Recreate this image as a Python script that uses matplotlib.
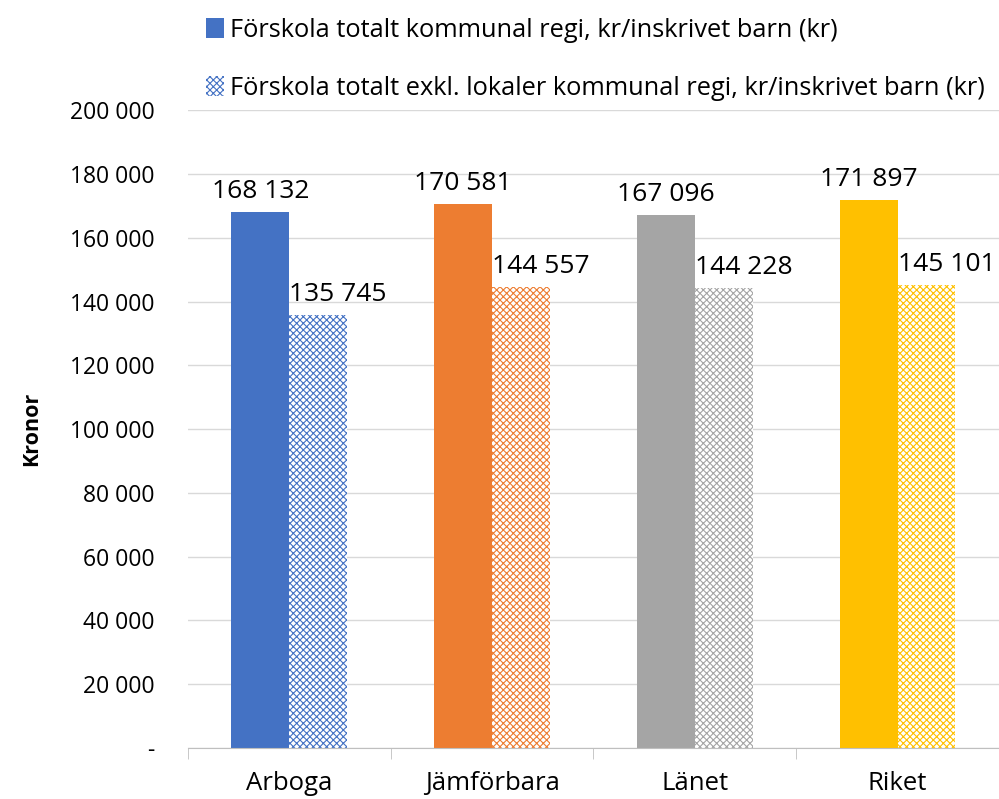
import numpy as np
import matplotlib.pyplot as plt
from matplotlib.ticker import FuncFormatter
from matplotlib.patches import Patch

categories = ['Arboga', 'Jämförbara', 'Länet', 'Riket']
totalt = [168132, 170581, 167096, 171897]
exkl_lokaler = [135745, 144557, 144228, 145101]
colors = ['#4472C4', '#ED7D31', '#A5A5A5', '#FFC000']
series_labels = ['Förskola totalt kommunal regi, kr/inskrivet barn (kr)',
                 'Förskola totalt exkl. lokaler kommunal regi, kr/inskrivet barn (kr)']

plt.rcParams['font.family'] = ['Open Sans', 'DejaVu Sans']
plt.rcParams['hatch.linewidth'] = 0.8

def fmt(v):
    return '{:,}'.format(int(v)).replace(',', ' ')

fig = plt.figure(figsize=(9.99, 7.99), dpi=100)
ax = fig.add_axes([0.188, 0.064, 0.812, 0.798])

x = np.arange(len(categories))
w = 0.285
b1 = ax.bar(x - w / 2, totalt, w, color=colors, zorder=2)
b2 = ax.bar(x + w / 2, exkl_lokaler, w, facecolor='white', edgecolor=colors,
            hatch='xxxxx', linewidth=0, zorder=2)

for rect, v in zip(b1, totalt):
    ax.text(rect.get_x() + rect.get_width() / 2, v + 2500, fmt(v),
            ha='center', va='bottom', fontsize=19)
for rect, v in zip(b2, exkl_lokaler):
    ax.text(rect.get_x(), v + 2500, fmt(v),
            ha='left', va='bottom', fontsize=19)

ax.set_ylim(0, 200000)
ax.set_xlim(-0.5, 3.5)
ax.set_yticks(np.arange(0, 200001, 20000))
ax.yaxis.set_major_formatter(FuncFormatter(lambda v, p: '-' if v == 0 else fmt(v)))
ax.set_xticks(x)
ax.set_xticklabels(categories)
ax.set_xticks(np.arange(-0.5, 4, 1), minor=True)
ax.tick_params(axis='x', which='major', length=0, labelsize=18.5, pad=17)
ax.tick_params(axis='x', which='minor', length=8, color='#BFBFBF')
ax.tick_params(axis='y', length=0, labelsize=16.5, pad=24)
ax.grid(axis='y', color='#D9D9D9', linewidth=1, zorder=0)
for s in ['top', 'right', 'left']:
    ax.spines[s].set_visible(False)
ax.spines['bottom'].set_color('#BFBFBF')
ax.set_ylabel('Kronor', fontsize=15.5, fontweight='bold', labelpad=20)

handles = [Patch(facecolor=colors[0]),
           Patch(facecolor='white', edgecolor=colors[0], hatch='xxxxx', linewidth=0)]
fig.legend(handles, series_labels, loc='upper left', bbox_to_anchor=(0.188, 1.0),
           frameon=False, fontsize=18.3, labelspacing=1.3, handlelength=0.72,
           handleheight=0.82, handletextpad=0.25, borderaxespad=0.3)

fig.savefig('out.png', dpi=100)
